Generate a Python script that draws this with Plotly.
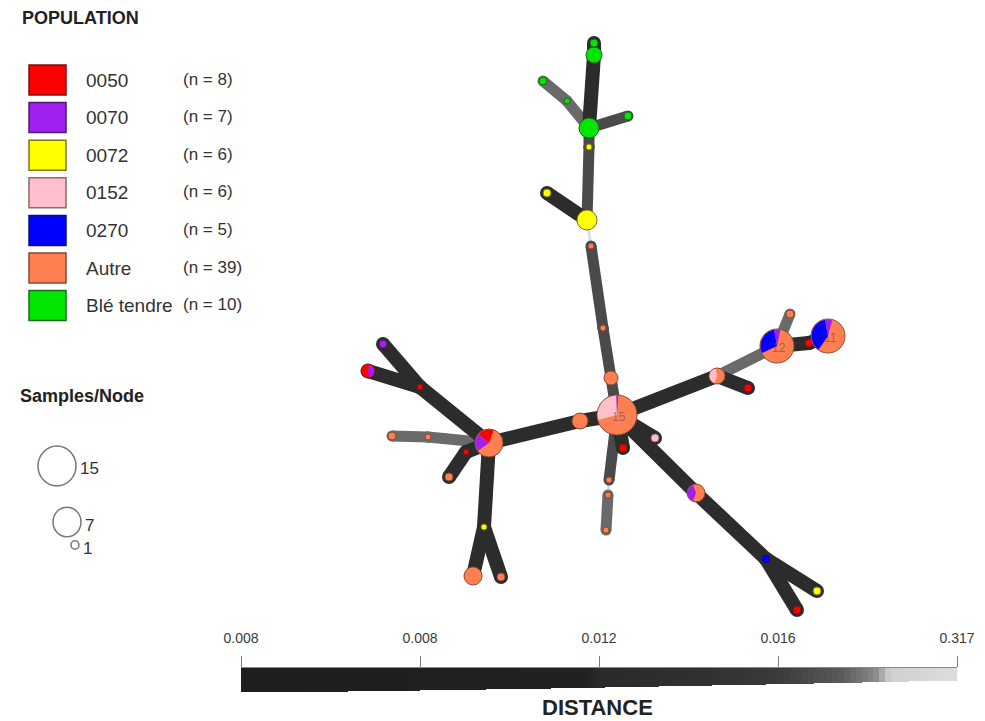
import math
import plotly.graph_objects as go

W, H = 985, 721
FONT = "Liberation Sans, Arial, sans-serif"

# ---------------- legend data ----------------
categories = ["0050", "0070", "0072", "0152", "0270", "Autre", "Blé tendre"]
counts = [8, 7, 6, 6, 5, 39, 10]
cat_colors = ["#ff0000", "#a020f0", "#ffff00", "#ffc0cb", "#0000ff", "#ff7f50", "#00e600"]
cat_outline = ["#7a1010", "#4a1a6a", "#7a7a10", "#8a6a6a", "#10106a", "#8a4a30", "#1a6a1a"]

size_legend_vals = [15, 7, 1]
size_legend_r = [19, 14, 4]

scale_labels = ["0.008", "0.008", "0.012", "0.016", "0.317"]

# ---------------- network data (layout positions) ----------------
node_x = [617, 580, 489, 611, 603, 591, 587, 547, 589, 589,
          594, 594, 567, 543, 628, 717, 748, 777, 809, 828,
          790, 696, 766, 817, 797, 655, 623, 609, 608, 606,
          420, 383, 368, 428, 392, 466, 449, 484, 473, 501]
node_y = [415, 421, 443, 378, 328, 246, 220, 193, 147, 128,
          55, 43, 101, 81, 116, 376, 388, 346, 343, 336,
          314, 493, 559, 591, 610, 438, 448, 480, 495, 530,
          387, 344, 371, 437, 436, 452, 477, 527, 576, 577]
node_r = [20, 8, 14, 7, 3, 3, 10, 4, 3, 10,
          8, 4, 3, 4, 4, 8, 4, 17, 4, 17,
          4, 9, 4, 4, 4, 4, 4, 3, 3, 3,
          3, 4, 7, 3, 4, 3, 4, 3, 9, 4]
node_cat = [5, 5, 5, 5, 5, 5, 2, 2, 2, 6,
            6, 6, 6, 6, 6, 5, 0, 5, 0, 5,
            5, 5, 4, 2, 0, 3, 0, 5, 5, 5,
            0, 1, 0, 5, 5, 0, 5, 2, 5, 5]
node_label = {0: "15", 17: "12", 19: "11"}

# pie slices: node -> list of (category, start_deg, end_deg)
pie_slices = {
    0: [(3, 92, 195), (1, 86, 92)],
    2: [(0, 70, 140), (1, 140, 215)],
    15: [(3, 100, 250)],
    17: [(4, 100, 205), (1, 78, 100)],
    19: [(4, 100, 235), (1, 75, 100)],
    21: [(1, 110, 250)],
    32: [(1, -80, 80)],
}

edge_a = [0, 1, 0, 3, 4, 6, 8, 6, 9, 10, 9, 12, 9,
          0, 15, 17, 17, 18, 15,
          0, 0, 21, 22, 22, 0, 0, 27, 28,
          2, 30, 30, 2, 33, 2, 35, 2, 37, 37, 5]
edge_b = [1, 2, 3, 4, 5, 8, 9, 7, 10, 11, 12, 13, 14,
          15, 17, 20, 18, 19, 16,
          25, 21, 22, 23, 24, 26, 27, 28, 29,
          30, 31, 32, 33, 34, 35, 36, 37, 38, 39, 6]
edge_shade = ["dark", "dark", "mid", "mid", "mid", "mid", "mid", "dark", "dark", "dark", "light", "light", "mid",
              "dark", "light", "light", "dark", "dark", "dark",
              "dark", "dark", "dark", "dark", "dark", "dark", "mid", "pale", "light",
              "dark", "dark", "dark", "light", "light", "dark", "dark", "dark", "dark", "dark", "pale"]

shade_style = {
    "dark": ("#2c2c2c", 14),
    "mid": ("#4a4a4a", 11),
    "light": ("#6a6a6a", 11),
    "pale": ("#d8e0e4", 3),
}

fig = go.Figure()

for shade in ["pale", "light", "mid", "dark"]:
    color, width = shade_style[shade]
    xs, ys, cx, cy = [], [], [], []
    for a, b, s in zip(edge_a, edge_b, edge_shade):
        if s != shade:
            continue
        xs += [node_x[a], node_x[b], None]
        ys += [node_y[a], node_y[b], None]
        cx += [node_x[a], node_x[b]]
        cy += [node_y[a], node_y[b]]
    if not cx:
        continue
    fig.add_trace(go.Scatter(x=xs, y=ys, mode="lines",
                             line=dict(color=color, width=width),
                             hoverinfo="skip", showlegend=False))
    fig.add_trace(go.Scatter(x=cx, y=cy, mode="markers",
                             marker=dict(color=color, size=width, opacity=1, line=dict(width=0)),
                             hoverinfo="skip", showlegend=False))

fig.add_trace(go.Scatter(
    x=node_x, y=node_y, mode="markers",
    marker=dict(size=[2 * r for r in node_r], opacity=1,
                color=[cat_colors[c] for c in node_cat],
                line=dict(color=[cat_outline[c] for c in node_cat], width=1)),
    hoverinfo="skip", showlegend=False))

shapes = []


def wedge_path(cx, cy, r, a0, a1):
    n = max(6, int(abs(a1 - a0) / 4))
    pts = [f"M {cx},{cy}"]
    for i in range(n + 1):
        a = math.radians(a0 + (a1 - a0) * i / n)
        pts.append(f"L {cx + r * math.cos(a):.2f},{cy - r * math.sin(a):.2f}")
    pts.append("Z")
    return " ".join(pts)


for nid, slices in pie_slices.items():
    for cat, a0, a1 in slices:
        shapes.append(dict(type="path", xref="x", yref="y",
                           path=wedge_path(node_x[nid], node_y[nid], node_r[nid] - 0.6, a0, a1),
                           fillcolor=cat_colors[cat], line=dict(width=0), layer="above"))

annotations = []
for nid, txt in node_label.items():
    annotations.append(dict(x=node_x[nid] + 2, y=node_y[nid] + 2, xref="x", yref="y", text=txt,
                            showarrow=False, font=dict(family=FONT, size=12, color="rgba(90,60,120,0.55)")))

annotations.append(dict(x=20, y=18, xref="x", yref="y", text="<b>POPULATION</b>", showarrow=False,
                        xanchor="left", font=dict(family=FONT, size=18, color="#222")))
for i, (cat, n) in enumerate(zip(categories, counts)):
    yc = 80 + 37.6 * i
    shapes.append(dict(type="rect", xref="x", yref="y", x0=29, x1=66, y0=yc - 15, y1=yc + 15,
                       fillcolor=cat_colors[i], line=dict(color=cat_outline[i], width=1.5)))
    annotations.append(dict(x=84, y=yc, xref="x", yref="y", text=cat, showarrow=False, xanchor="left",
                            font=dict(family=FONT, size=19, color="#333")))
    annotations.append(dict(x=181, y=yc - 1, xref="x", yref="y", text=f"(n = {n})", showarrow=False,
                            xanchor="left", font=dict(family=FONT, size=17, color="#333")))

annotations.append(dict(x=18, y=396, xref="x", yref="y", text="<b>Samples/Node</b>", showarrow=False,
                        xanchor="left", font=dict(family=FONT, size=18, color="#222")))
size_cx = [57, 67, 75]
size_cy = [466, 522, 545]
for v, r, cx, cy in zip(size_legend_vals, size_legend_r, size_cx, size_cy):
    shapes.append(dict(type="circle", xref="x", yref="y", x0=cx - r, x1=cx + r, y0=cy - r * 1.05,
                       y1=cy + r * 1.05, line=dict(color="#777", width=1.5)))
    annotations.append(dict(x=cx + r + 2, y=cy + (2 if v == 15 else 3), xref="x", yref="y", text=str(v),
                            showarrow=False, xanchor="left", font=dict(family=FONT, size=17, color="#333")))

# ---------------- distance scale: tapered grey gradient on a secondary axis ----------------
ncol = 120
nrow = 24
dx = 4 / ncol
col_x = [dx / 2 + i * dx for i in range(ncol)]
row_y = [668.5 + k for k in range(nrow)]
zrows = []
for yc in row_y:
    row = []
    for i, xv in enumerate(col_x):
        bottom = 692 - 12 * (xv / 4) ** 1.3
        row.append(i / (ncol - 1) if yc - 0.5 < bottom else None)
    zrows.append(row)
fig.add_trace(go.Heatmap(
    z=zrows, x=col_x, y=row_y, xaxis="x2", yaxis="y2", zmin=0, zmax=1,
    colorscale=[[0, "#1e1e1e"], [0.48, "#212121"], [0.5, "#2a2a2a"], [0.64, "#303030"],
                [0.75, "#3a3a3a"], [0.84, "#5a5a5a"], [0.89, "#8a8a8a"], [0.91, "#d0d0d0"],
                [1, "#dcdcdc"]],
    showscale=False, hoverinfo="skip"))

annotations.append(dict(x=597, y=707, xref="x", yref="y", text="<b>DISTANCE</b>", showarrow=False,
                        font=dict(family=FONT, size=22, color="#222")))

fig.update_layout(
    width=W, height=H, margin=dict(l=0, r=0, t=0, b=0, autoexpand=False),
    paper_bgcolor="white", plot_bgcolor="rgba(0,0,0,0)",
    xaxis=dict(range=[0, W], visible=False, domain=[0, 1], fixedrange=True),
    yaxis=dict(range=[H, 0], visible=False, domain=[0, 1], fixedrange=True),
    xaxis2=dict(domain=[241 / W, 957 / W], range=[0, 4], anchor="y2", side="top",
                tickvals=[0, 1, 2, 3, 4], ticktext=scale_labels, ticks="outside", ticklen=11,
                ticklabelstandoff=7,
                tickcolor="#7a7a7a", tickwidth=1.3, showline=True, linecolor="#8a8a8a", linewidth=1.3,
                showgrid=False, zeroline=False, fixedrange=True,
                tickfont=dict(family=FONT, size=14, color="#3a3a3a")),
    yaxis2=dict(domain=[(H - 692) / H, (H - 668) / H], range=[692, 668], anchor="x2", visible=False,
                fixedrange=True),
    shapes=shapes, annotations=annotations, showlegend=False,
)

fig.write_html("out.html", config={"displayModeBar": False},
               post_script="document.body.style.margin='0px';")
